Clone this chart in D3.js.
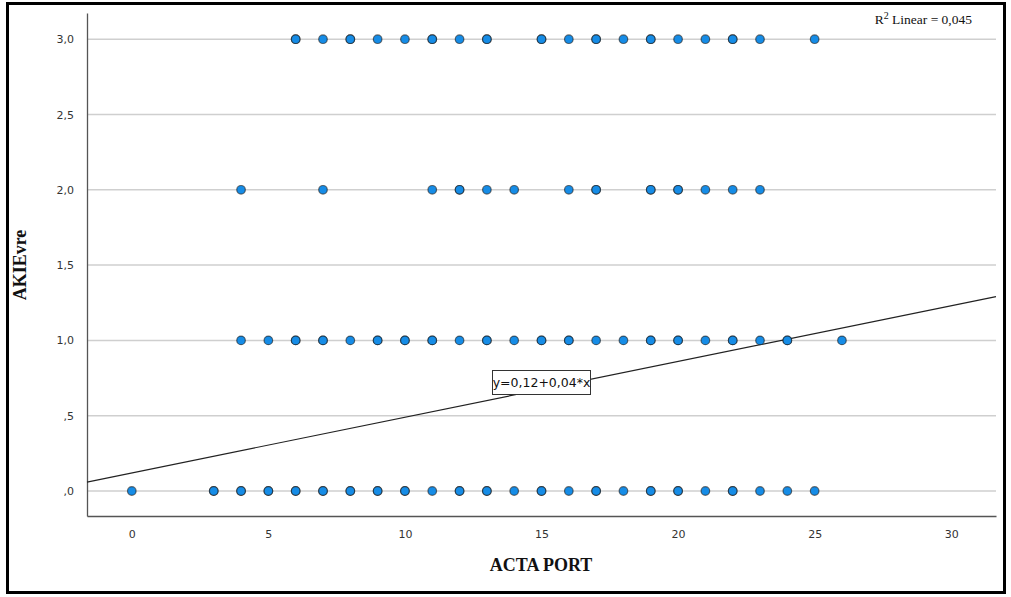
<!DOCTYPE html>
<html><head><meta charset="utf-8">
<script src="https://cdn.jsdelivr.net/npm/d3@7/dist/d3.min.js"></script>
<style>body{margin:0;background:#fff}svg{display:block}</style>
</head><body>
<svg id="c" width="1011" height="597"></svg>
<script>
// Data (x values of ACTA PORT at each AKIEvre level; repeats = overlapping cases)
const row3 = [6,6,7,8,8,9,10,11,11,12,13,13,15,15,16,17,17,18,19,19,20,21,22,22,23,25];
const row2 = [4,7,11,12,12,13,14,16,17,17,19,19,20,20,21,22,23];
const row1 = [4,5,6,6,7,7,8,9,9,10,10,11,11,12,13,13,14,15,15,16,16,17,18,19,19,20,20,21,22,22,23,24,24,26];
const row0 = [0,3,3,4,4,5,5,6,6,7,7,8,8,9,9,10,10,11,12,12,13,13,14,15,15,16,17,17,18,19,19,20,20,21,22,22,23,24,25];
const yLevels = [3, 2, 1, 0];
const xTicks = [0,5,10,15,20,25,30];
const yTicks = [0,0.5,1,1.5,2,2.5,3];
const yTickLabels = [",0",",5","1,0","1,5","2,0","2,5","3,0"];
const fitIntercept = 0.12, fitSlope = 0.037;
const fitLabel = "y=0,12+0,04*x";
const r2Value = "0,045";

const svg = d3.select("#c");
// outer frame
svg.append("rect").attr("x",7.5).attr("y",3.5).attr("width",997).attr("height",589)
  .attr("fill","none").attr("stroke","#000").attr("stroke-width",3);

const L=87, R=996, T=13, B=516;
const x = d3.scaleLinear().domain([-1.64,31.64]).range([L,R]);
const y = d3.scaleLinear().domain([-0.166,3.174]).range([B,T]);

// gridlines
svg.append("g").selectAll("line").data(yTicks).join("line")
  .attr("x1",L).attr("x2",R).attr("y1",d=>y(d)).attr("y2",d=>y(d))
  .attr("stroke","#cfcfcf").attr("stroke-width",1.5);

// axes
const xAxis = d3.axisBottom(x).tickValues(xTicks).tickSize(0).tickPadding(14).tickFormat(d3.format("d"));
const gx = svg.append("g").attr("transform",`translate(0,${B})`).call(xAxis);
gx.select(".domain").attr("stroke","#555").attr("stroke-width",1.3);
gx.selectAll("text").attr("font-family","Tahoma, 'DejaVu Sans', sans-serif").attr("font-size",11).attr("fill","#333");

const yAxis = d3.axisLeft(y).tickValues(yTicks).tickSize(0).tickPadding(13).tickFormat((d,i)=>yTickLabels[i]);
const gy = svg.append("g").attr("transform",`translate(${L},0)`).call(yAxis);
gy.select(".domain").attr("stroke","#555").attr("stroke-width",1.3);
gy.selectAll("text").attr("font-family","Tahoma, 'DejaVu Sans', sans-serif").attr("font-size",11).attr("fill","#333");

// fit line
const x0 = x.domain()[0], x1 = x.domain()[1];
svg.append("line")
  .attr("x1",x(x0)).attr("y1",y(fitIntercept+fitSlope*x0))
  .attr("x2",x(x1)).attr("y2",y(fitIntercept+fitSlope*x1))
  .attr("stroke","#222").attr("stroke-width",1.2);

// points
const rows = [row3,row2,row1,row0];
const pts = [];
rows.forEach((r,i)=>r.forEach(v=>pts.push({x:v,y:yLevels[i]})));
svg.append("g").selectAll("circle").data(pts).join("circle")
  .attr("cx",d=>x(d.x)).attr("cy",d=>y(d.y)).attr("r",4.3)
  .attr("fill","#168ce6").attr("stroke","#1a1a1a").attr("stroke-opacity",0.6).attr("stroke-width",1.2);

// equation box
const bx=492, by=370;
svg.append("rect").attr("x",bx+0.5).attr("y",by+0.5).attr("width",98).attr("height",24)
  .attr("fill","#fff").attr("stroke","#333").attr("stroke-width",1);
svg.append("text").attr("x",bx+49.5).attr("y",by+17).attr("text-anchor","middle")
  .attr("font-family","Tahoma, 'DejaVu Sans', sans-serif").attr("font-size",12.5).attr("fill","#111")
  .text(fitLabel);

// R2 label
const r2 = svg.append("text").attr("x",972).attr("y",24).attr("text-anchor","end")
  .attr("font-family","'Liberation Serif', 'Times New Roman', serif").attr("font-size",13.5).attr("fill","#111");
r2.append("tspan").text("R");
r2.append("tspan").attr("dy",-5).attr("font-size",10).text("2");
r2.append("tspan").attr("dy",5).text(" Linear = " + r2Value);

// axis titles
svg.append("text").attr("x",541).attr("y",571).attr("text-anchor","middle")
  .attr("font-family","'Liberation Serif', 'Times New Roman', serif").attr("font-weight","bold")
  .attr("font-size",18).attr("fill","#111").text("ACTA PORT");
svg.append("text").attr("transform","translate(26,265) rotate(-90)").attr("text-anchor","middle")
  .attr("font-family","'Liberation Serif', 'Times New Roman', serif").attr("font-weight","bold")
  .attr("font-size",18).attr("fill","#111").text("AKIEvre");
</script>
</body></html>
